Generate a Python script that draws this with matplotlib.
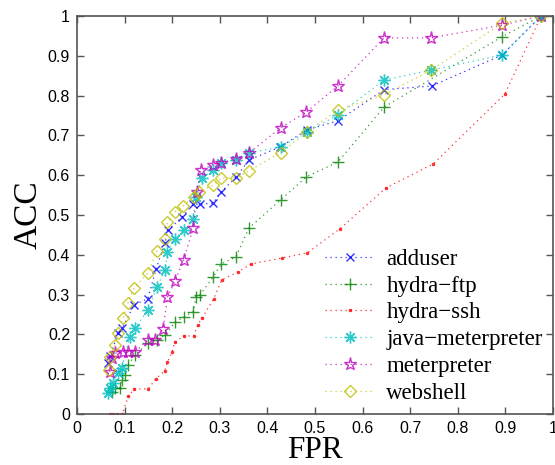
import matplotlib
matplotlib.use("Agg")
import matplotlib.pyplot as plt

labels = ["adduser", "hydra\u2212ftp", "hydra\u2212ssh", "java\u2212meterpreter", "meterpreter", "webshell"]

adduser_x = [0.066, 0.070, 0.086, 0.095, 0.120, 0.149, 0.166, 0.185, 0.191, 0.221, 0.244, 0.258, 0.286, 0.303, 0.334, 0.361, 0.427, 0.483, 0.549, 0.645, 0.745, 0.893, 0.975]
adduser_y = [0.128, 0.145, 0.204, 0.216, 0.274, 0.290, 0.364, 0.430, 0.462, 0.495, 0.527, 0.527, 0.530, 0.558, 0.595, 0.638, 0.671, 0.714, 0.737, 0.815, 0.824, 0.902, 1.000]

ftp_x = [0.073, 0.080, 0.090, 0.094, 0.101, 0.107, 0.122, 0.149, 0.168, 0.185, 0.206, 0.224, 0.244, 0.250, 0.258, 0.286, 0.303, 0.334, 0.361, 0.428, 0.482, 0.548, 0.645, 0.893, 0.975]
ftp_y = [0.055, 0.065, 0.065, 0.085, 0.098, 0.123, 0.148, 0.178, 0.186, 0.198, 0.231, 0.243, 0.257, 0.295, 0.299, 0.344, 0.377, 0.395, 0.467, 0.538, 0.596, 0.633, 0.771, 0.948, 1.000]

ssh_x = [0.070, 0.075, 0.085, 0.095, 0.108, 0.120, 0.150, 0.165, 0.184, 0.190, 0.200, 0.205, 0.224, 0.245, 0.254, 0.262, 0.287, 0.304, 0.338, 0.366, 0.431, 0.484, 0.552, 0.649, 0.748, 0.899, 0.975]
ssh_y = [0.000, 0.000, 0.000, 0.000, 0.045, 0.063, 0.063, 0.088, 0.108, 0.130, 0.156, 0.180, 0.196, 0.196, 0.224, 0.240, 0.289, 0.337, 0.357, 0.377, 0.392, 0.405, 0.465, 0.568, 0.628, 0.804, 1.000]

java_x = [0.065, 0.069, 0.076, 0.086, 0.094, 0.111, 0.122, 0.149, 0.168, 0.185, 0.190, 0.206, 0.224, 0.244, 0.250, 0.262, 0.286, 0.303, 0.334, 0.361, 0.428, 0.483, 0.548, 0.645, 0.744, 0.893, 0.975]
java_y = [0.053, 0.065, 0.078, 0.103, 0.116, 0.194, 0.216, 0.261, 0.319, 0.362, 0.407, 0.440, 0.462, 0.489, 0.545, 0.593, 0.613, 0.631, 0.638, 0.656, 0.671, 0.709, 0.751, 0.839, 0.864, 0.902, 1.000]

met_x = [0.069, 0.074, 0.080, 0.097, 0.107, 0.122, 0.149, 0.164, 0.181, 0.190, 0.206, 0.224, 0.244, 0.252, 0.260, 0.286, 0.303, 0.334, 0.361, 0.428, 0.482, 0.548, 0.645, 0.744, 0.893, 0.975]
met_y = [0.106, 0.141, 0.153, 0.156, 0.156, 0.156, 0.186, 0.186, 0.214, 0.294, 0.334, 0.387, 0.467, 0.558, 0.613, 0.626, 0.631, 0.641, 0.656, 0.719, 0.759, 0.824, 0.945, 0.945, 0.977, 1.000]

web_x = [0.067, 0.069, 0.080, 0.086, 0.097, 0.107, 0.120, 0.149, 0.168, 0.185, 0.190, 0.206, 0.223, 0.245, 0.256, 0.286, 0.303, 0.334, 0.361, 0.428, 0.483, 0.548, 0.645, 0.744, 0.893, 0.975]
web_y = [0.110, 0.143, 0.173, 0.204, 0.241, 0.279, 0.317, 0.354, 0.410, 0.440, 0.482, 0.508, 0.523, 0.545, 0.558, 0.575, 0.593, 0.593, 0.611, 0.657, 0.709, 0.764, 0.802, 0.864, 0.982, 1.000]

xticks = [0, 0.1, 0.2, 0.3, 0.4, 0.5, 0.6, 0.7, 0.8, 0.9, 1]
xticklabels = ["0", "0.1", "0.2", "0.3", "0.4", "0.5", "0.6", "0.7", "0.8", "0.9", "1"]
yticks = [0, 0.1, 0.2, 0.3, 0.4, 0.5, 0.6, 0.7, 0.8, 0.9, 1]
yticklabels = ["0", "0.1", "0.2", "0.3", "0.4", "0.5", "0.6", "0.7", "0.8", "0.9", "1"]

series = [
    (adduser_x, adduser_y, dict(color=(0, 0, 1), marker="x", ms=6, mew=1.0)),
    (ftp_x, ftp_y, dict(color=(0, 0.5, 0), marker="+", ms=8.5, mew=1.0)),
    (ssh_x, ssh_y, dict(color=(1, 0, 0), marker=".", ms=4, mew=0.5)),
    (java_x, java_y, dict(color=(0, 0.75, 0.75), marker=(8, 2, 0), ms=8.5, mew=1.0)),
    (met_x, met_y, dict(color=(0.75, 0, 0.75), marker="*", ms=9.5, mew=1.0, mfc="none")),
    (web_x, web_y, dict(color=(0.75, 0.75, 0), marker="D", ms=6.5, mew=1.0, mfc="none")),
]

fig = plt.figure(figsize=(5.55, 4.65), dpi=100)
ax = fig.add_axes([77 / 555, 51 / 465, 476 / 555, 398 / 465])

for (x, y, st), lab in zip(series, labels):
    ax.plot(x, y, linestyle=(0, (1, 3)), linewidth=0.9, label=lab, alpha=0.8, **st)

ax.set_xlim(0, 1)
ax.set_ylim(0, 1)
ax.set_xticks(xticks)
ax.set_xticklabels(xticklabels)
ax.set_yticks(yticks)
ax.set_yticklabels(yticklabels)
for sp in ax.spines.values():
    sp.set_color("#555555")
    sp.set_linewidth(1.2)
ax.tick_params(direction="in", top=True, right=True, length=5, width=1.0,
               colors="#555555", labelcolor="black", labelsize=11.5, pad=5)
for t in ax.get_xticklabels() + ax.get_yticklabels():
    t.set_family("Liberation Sans")

ax.set_xlabel("FPR", family="Liberation Serif", fontsize=22.5, labelpad=0)
ax.set_ylabel("ACC", family="Liberation Serif", fontsize=24, labelpad=3)

leg = ax.legend(loc="upper left", bbox_to_anchor=(0.52, 0.415), frameon=False,
                prop={"family": "Liberation Serif", "size": 16.5},
                handlelength=2.2, handletextpad=0.5, labelspacing=0.25,
                borderpad=0, borderaxespad=0)

fig.savefig("out.png", dpi=100)
